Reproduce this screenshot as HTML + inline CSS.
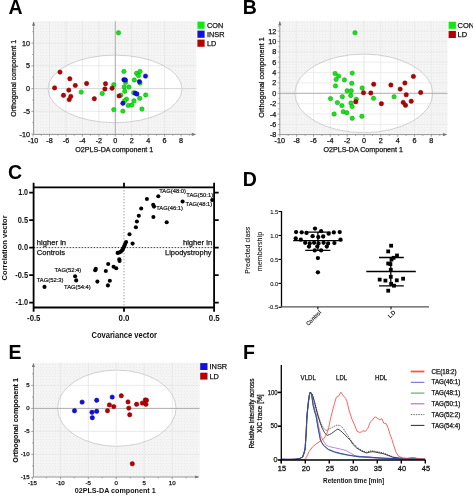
<!DOCTYPE html>
<html><head><meta charset="utf-8"><style>
html,body{margin:0;padding:0;background:#fff;}
svg{display:block;font-family:"Liberation Sans", sans-serif;will-change:transform;}
</style></head><body>
<svg width="473" height="496" viewBox="0 0 473 496">
<rect width="473" height="496" fill="#fff"/>
<defs><pattern id="dots" x="0" y="0" width="3" height="3" patternUnits="userSpaceOnUse"><rect width="3" height="3" fill="#f4f4f4"/><rect x="1" y="1" width="1" height="1" fill="#ebebeb"/></pattern></defs>
<text x="8.40" y="14.00" font-size="19.5" text-anchor="start" font-weight="bold">A</text>
<text x="242.80" y="13.60" font-size="19.5" text-anchor="start" font-weight="bold">B</text>
<text x="8.10" y="179.30" font-size="19.5" text-anchor="start" font-weight="bold">C</text>
<text x="242.70" y="185.70" font-size="19.5" text-anchor="start" font-weight="bold">D</text>
<text x="8.50" y="359.10" font-size="19.5" text-anchor="start" font-weight="bold">E</text>
<text x="243.00" y="359.30" font-size="19.5" text-anchor="start" font-weight="bold">F</text>
<rect x="34" y="21.2" width="162.3" height="113.2" fill="url(#dots)"/>
<ellipse cx="115" cy="88.9" rx="67" ry="33.8" fill="#ffffff" stroke="none"/>
<line x1="49.5" y1="21.2" x2="49.5" y2="134.4" stroke="#e7e7e7" stroke-width="0.9"/>
<line x1="66.0" y1="21.2" x2="66.0" y2="134.4" stroke="#e7e7e7" stroke-width="0.9"/>
<line x1="82.4" y1="21.2" x2="82.4" y2="134.4" stroke="#e7e7e7" stroke-width="0.9"/>
<line x1="98.9" y1="21.2" x2="98.9" y2="134.4" stroke="#e7e7e7" stroke-width="0.9"/>
<line x1="115.3" y1="21.2" x2="115.3" y2="134.4" stroke="#e7e7e7" stroke-width="0.9"/>
<line x1="131.7" y1="21.2" x2="131.7" y2="134.4" stroke="#e7e7e7" stroke-width="0.9"/>
<line x1="148.2" y1="21.2" x2="148.2" y2="134.4" stroke="#e7e7e7" stroke-width="0.9"/>
<line x1="164.6" y1="21.2" x2="164.6" y2="134.4" stroke="#e7e7e7" stroke-width="0.9"/>
<line x1="34" y1="43.1" x2="196.3" y2="43.1" stroke="#e7e7e7" stroke-width="0.9"/>
<line x1="34" y1="65.8" x2="196.3" y2="65.8" stroke="#e7e7e7" stroke-width="0.9"/>
<line x1="34" y1="111.3" x2="196.3" y2="111.3" stroke="#e7e7e7" stroke-width="0.9"/>
<ellipse cx="115" cy="88.9" rx="67" ry="33.8" fill="none" stroke="#b4b4b4" stroke-width="0.6"/>
<line x1="115.3" y1="21.2" x2="115.3" y2="134.4" stroke="#a8a8a8" stroke-width="0.9"/>
<line x1="34" y1="88.6" x2="196.3" y2="88.6" stroke="#d2d2d2" stroke-width="0.9"/>
<line x1="33.6" y1="22.2" x2="33.6" y2="134.4" stroke="#8a8a8a" stroke-width="0.9"/>
<line x1="33.6" y1="134.4" x2="195.3" y2="134.4" stroke="#8a8a8a" stroke-width="0.9"/>
<path d="M32.0,25.7 L33.6,21.5 L35.2,25.7 Z" fill="#777"/>
<path d="M191.8,132.8 L196.0,134.4 L191.8,136.0 Z" fill="#777"/>
<line x1="33.1" y1="134.4" x2="33.1" y2="136.6" stroke="#8a8a8a" stroke-width="0.8"/>
<line x1="49.5" y1="134.4" x2="49.5" y2="136.6" stroke="#8a8a8a" stroke-width="0.8"/>
<line x1="66.0" y1="134.4" x2="66.0" y2="136.6" stroke="#8a8a8a" stroke-width="0.8"/>
<line x1="82.4" y1="134.4" x2="82.4" y2="136.6" stroke="#8a8a8a" stroke-width="0.8"/>
<line x1="98.9" y1="134.4" x2="98.9" y2="136.6" stroke="#8a8a8a" stroke-width="0.8"/>
<line x1="115.3" y1="134.4" x2="115.3" y2="136.6" stroke="#8a8a8a" stroke-width="0.8"/>
<line x1="131.7" y1="134.4" x2="131.7" y2="136.6" stroke="#8a8a8a" stroke-width="0.8"/>
<line x1="148.2" y1="134.4" x2="148.2" y2="136.6" stroke="#8a8a8a" stroke-width="0.8"/>
<line x1="164.6" y1="134.4" x2="164.6" y2="136.6" stroke="#8a8a8a" stroke-width="0.8"/>
<line x1="181.1" y1="134.4" x2="181.1" y2="136.6" stroke="#8a8a8a" stroke-width="0.8"/>
<line x1="41.3" y1="134.4" x2="41.3" y2="135.70000000000002" stroke="#8a8a8a" stroke-width="0.8"/>
<line x1="57.8" y1="134.4" x2="57.8" y2="135.70000000000002" stroke="#8a8a8a" stroke-width="0.8"/>
<line x1="74.2" y1="134.4" x2="74.2" y2="135.70000000000002" stroke="#8a8a8a" stroke-width="0.8"/>
<line x1="90.6" y1="134.4" x2="90.6" y2="135.70000000000002" stroke="#8a8a8a" stroke-width="0.8"/>
<line x1="107.1" y1="134.4" x2="107.1" y2="135.70000000000002" stroke="#8a8a8a" stroke-width="0.8"/>
<line x1="123.5" y1="134.4" x2="123.5" y2="135.70000000000002" stroke="#8a8a8a" stroke-width="0.8"/>
<line x1="140.0" y1="134.4" x2="140.0" y2="135.70000000000002" stroke="#8a8a8a" stroke-width="0.8"/>
<line x1="156.4" y1="134.4" x2="156.4" y2="135.70000000000002" stroke="#8a8a8a" stroke-width="0.8"/>
<line x1="172.8" y1="134.4" x2="172.8" y2="135.70000000000002" stroke="#8a8a8a" stroke-width="0.8"/>
<line x1="189.3" y1="134.4" x2="189.3" y2="135.70000000000002" stroke="#8a8a8a" stroke-width="0.8"/>
<line x1="31.400000000000002" y1="43.1" x2="33.6" y2="43.1" stroke="#8a8a8a" stroke-width="0.8"/>
<line x1="31.400000000000002" y1="65.8" x2="33.6" y2="65.8" stroke="#8a8a8a" stroke-width="0.8"/>
<line x1="31.400000000000002" y1="88.6" x2="33.6" y2="88.6" stroke="#8a8a8a" stroke-width="0.8"/>
<line x1="31.400000000000002" y1="111.3" x2="33.6" y2="111.3" stroke="#8a8a8a" stroke-width="0.8"/>
<line x1="31.400000000000002" y1="134.1" x2="33.6" y2="134.1" stroke="#8a8a8a" stroke-width="0.8"/>
<line x1="32.300000000000004" y1="31.7" x2="33.6" y2="31.7" stroke="#8a8a8a" stroke-width="0.8"/>
<line x1="32.300000000000004" y1="54.5" x2="33.6" y2="54.5" stroke="#8a8a8a" stroke-width="0.8"/>
<line x1="32.300000000000004" y1="77.2" x2="33.6" y2="77.2" stroke="#8a8a8a" stroke-width="0.8"/>
<line x1="32.300000000000004" y1="100.0" x2="33.6" y2="100.0" stroke="#8a8a8a" stroke-width="0.8"/>
<line x1="32.300000000000004" y1="122.7" x2="33.6" y2="122.7" stroke="#8a8a8a" stroke-width="0.8"/>
<text x="33.10" y="142.60" font-size="7.2" text-anchor="middle" stroke="#111" stroke-width="0.25" fill="#111">-10</text>
<text x="49.54" y="142.60" font-size="7.2" text-anchor="middle" stroke="#111" stroke-width="0.25" fill="#111">-8</text>
<text x="65.98" y="142.60" font-size="7.2" text-anchor="middle" stroke="#111" stroke-width="0.25" fill="#111">-6</text>
<text x="82.42" y="142.60" font-size="7.2" text-anchor="middle" stroke="#111" stroke-width="0.25" fill="#111">-4</text>
<text x="98.86" y="142.60" font-size="7.2" text-anchor="middle" stroke="#111" stroke-width="0.25" fill="#111">-2</text>
<text x="115.30" y="142.60" font-size="7.2" text-anchor="middle" stroke="#111" stroke-width="0.25" fill="#111">0</text>
<text x="131.74" y="142.60" font-size="7.2" text-anchor="middle" stroke="#111" stroke-width="0.25" fill="#111">2</text>
<text x="148.18" y="142.60" font-size="7.2" text-anchor="middle" stroke="#111" stroke-width="0.25" fill="#111">4</text>
<text x="164.62" y="142.60" font-size="7.2" text-anchor="middle" stroke="#111" stroke-width="0.25" fill="#111">6</text>
<text x="181.06" y="142.60" font-size="7.2" text-anchor="middle" stroke="#111" stroke-width="0.25" fill="#111">8</text>
<text x="30.00" y="45.60" font-size="7.2" text-anchor="end" stroke="#111" stroke-width="0.25" fill="#111">10</text>
<text x="30.00" y="68.35" font-size="7.2" text-anchor="end" stroke="#111" stroke-width="0.25" fill="#111">5</text>
<text x="30.00" y="91.10" font-size="7.2" text-anchor="end" stroke="#111" stroke-width="0.25" fill="#111">0</text>
<text x="30.00" y="113.85" font-size="7.2" text-anchor="end" stroke="#111" stroke-width="0.25" fill="#111">-5</text>
<text x="30.00" y="136.60" font-size="7.2" text-anchor="end" stroke="#111" stroke-width="0.25" fill="#111">-10</text>
<text x="114.30" y="151.50" font-size="7.2" text-anchor="middle" stroke="#111" stroke-width="0.25" fill="#111" textLength="78" lengthAdjust="spacingAndGlyphs">O2PLS-DA component 1</text>
<text x="16.10" y="78.30" font-size="7" text-anchor="middle" stroke="#111" stroke-width="0.25" fill="#111" textLength="76.7" lengthAdjust="spacingAndGlyphs" transform="rotate(-90 16.10 78.30)">Orthogonal component 1</text>
<rect x="197.4" y="21.6" width="7.2" height="7.2" fill="#14e614"/>
<text x="207.00" y="27.90" font-size="7.3" text-anchor="start" stroke="#111" stroke-width="0.25" fill="#111">CON</text>
<rect x="197.4" y="30.6" width="7.2" height="7.2" fill="#1010e6"/>
<text x="207.00" y="36.90" font-size="7.3" text-anchor="start" stroke="#111" stroke-width="0.25" fill="#111">INSR</text>
<rect x="197.4" y="39.6" width="7.2" height="7.2" fill="#b80000"/>
<text x="207.00" y="45.90" font-size="7.3" text-anchor="start" stroke="#111" stroke-width="0.25" fill="#111">LD</text>
<circle cx="81.2" cy="92.1" r="2.2" fill="#14e614" stroke="#0a9a0a" stroke-width="0.5"/>
<circle cx="113.8" cy="84.7" r="2.2" fill="#14e614" stroke="#0a9a0a" stroke-width="0.5"/>
<circle cx="102.2" cy="93.5" r="2.2" fill="#14e614" stroke="#0a9a0a" stroke-width="0.5"/>
<circle cx="123.9" cy="71.4" r="2.2" fill="#14e614" stroke="#0a9a0a" stroke-width="0.5"/>
<circle cx="124.2" cy="86.9" r="2.2" fill="#14e614" stroke="#0a9a0a" stroke-width="0.5"/>
<circle cx="128.9" cy="87.0" r="2.2" fill="#14e614" stroke="#0a9a0a" stroke-width="0.5"/>
<circle cx="124.8" cy="91.3" r="2.2" fill="#14e614" stroke="#0a9a0a" stroke-width="0.5"/>
<circle cx="134.3" cy="80.0" r="2.2" fill="#14e614" stroke="#0a9a0a" stroke-width="0.5"/>
<circle cx="136.6" cy="73.3" r="2.2" fill="#14e614" stroke="#0a9a0a" stroke-width="0.5"/>
<circle cx="140.0" cy="71.4" r="2.2" fill="#14e614" stroke="#0a9a0a" stroke-width="0.5"/>
<circle cx="138.5" cy="75.6" r="2.2" fill="#14e614" stroke="#0a9a0a" stroke-width="0.5"/>
<circle cx="140.0" cy="83.1" r="2.2" fill="#14e614" stroke="#0a9a0a" stroke-width="0.5"/>
<circle cx="133.7" cy="92.7" r="2.2" fill="#14e614" stroke="#0a9a0a" stroke-width="0.5"/>
<circle cx="145.7" cy="95.0" r="2.2" fill="#14e614" stroke="#0a9a0a" stroke-width="0.5"/>
<circle cx="139.7" cy="98.3" r="2.2" fill="#14e614" stroke="#0a9a0a" stroke-width="0.5"/>
<circle cx="126.5" cy="99.1" r="2.2" fill="#14e614" stroke="#0a9a0a" stroke-width="0.5"/>
<circle cx="124.6" cy="100.8" r="2.2" fill="#14e614" stroke="#0a9a0a" stroke-width="0.5"/>
<circle cx="134.0" cy="100.8" r="2.2" fill="#14e614" stroke="#0a9a0a" stroke-width="0.5"/>
<circle cx="128.2" cy="105.4" r="2.2" fill="#14e614" stroke="#0a9a0a" stroke-width="0.5"/>
<circle cx="131.8" cy="105.0" r="2.2" fill="#14e614" stroke="#0a9a0a" stroke-width="0.5"/>
<circle cx="113.8" cy="109.6" r="2.2" fill="#14e614" stroke="#0a9a0a" stroke-width="0.5"/>
<circle cx="122.9" cy="111.1" r="2.2" fill="#14e614" stroke="#0a9a0a" stroke-width="0.5"/>
<circle cx="141.9" cy="109.0" r="2.2" fill="#14e614" stroke="#0a9a0a" stroke-width="0.5"/>
<circle cx="118.5" cy="32.8" r="2.2" fill="#14e614" stroke="#0a9a0a" stroke-width="0.5"/>
<circle cx="125.6" cy="82.4" r="2.2" fill="#14e614" stroke="#0a9a0a" stroke-width="0.5"/>
<circle cx="120.9" cy="95.2" r="2.2" fill="#14e614" stroke="#0a9a0a" stroke-width="0.5"/>
<circle cx="123.9" cy="79.7" r="2.2" fill="#1010e6" stroke="#000090" stroke-width="0.5"/>
<circle cx="125.4" cy="80.0" r="2.2" fill="#1010e6" stroke="#000090" stroke-width="0.5"/>
<circle cx="145.5" cy="76.1" r="2.2" fill="#1010e6" stroke="#000090" stroke-width="0.5"/>
<circle cx="139.4" cy="81.6" r="2.2" fill="#1010e6" stroke="#000090" stroke-width="0.5"/>
<circle cx="135.3" cy="93.2" r="2.2" fill="#1010e6" stroke="#000090" stroke-width="0.5"/>
<circle cx="136.9" cy="94.0" r="2.2" fill="#1010e6" stroke="#000090" stroke-width="0.5"/>
<circle cx="122.9" cy="103.3" r="2.2" fill="#1010e6" stroke="#000090" stroke-width="0.5"/>
<circle cx="60.0" cy="72.1" r="2.2" fill="#b80000" stroke="#700000" stroke-width="0.5"/>
<circle cx="69.8" cy="78.8" r="2.2" fill="#b80000" stroke="#700000" stroke-width="0.5"/>
<circle cx="75.3" cy="85.4" r="2.2" fill="#b80000" stroke="#700000" stroke-width="0.5"/>
<circle cx="86.6" cy="83.5" r="2.2" fill="#b80000" stroke="#700000" stroke-width="0.5"/>
<circle cx="54.6" cy="87.9" r="2.2" fill="#b80000" stroke="#700000" stroke-width="0.5"/>
<circle cx="68.8" cy="90.1" r="2.2" fill="#b80000" stroke="#700000" stroke-width="0.5"/>
<circle cx="63.5" cy="95.3" r="2.2" fill="#b80000" stroke="#700000" stroke-width="0.5"/>
<circle cx="70.8" cy="96.4" r="2.2" fill="#b80000" stroke="#700000" stroke-width="0.5"/>
<circle cx="69.2" cy="99.6" r="2.2" fill="#b80000" stroke="#700000" stroke-width="0.5"/>
<circle cx="94.3" cy="98.7" r="2.2" fill="#b80000" stroke="#700000" stroke-width="0.5"/>
<circle cx="105.5" cy="83.7" r="2.2" fill="#b80000" stroke="#700000" stroke-width="0.5"/>
<circle cx="104.9" cy="89.0" r="2.2" fill="#b80000" stroke="#700000" stroke-width="0.5"/>
<circle cx="112.1" cy="88.2" r="2.2" fill="#b80000" stroke="#700000" stroke-width="0.5"/>
<circle cx="119.1" cy="95.9" r="2.2" fill="#b80000" stroke="#700000" stroke-width="0.5"/>
<rect x="280" y="20.8" width="167.5" height="113.8" fill="url(#dots)"/>
<ellipse cx="363.8" cy="93.4" rx="69" ry="39.3" fill="#ffffff" stroke="none"/>
<line x1="296.6" y1="20.8" x2="296.6" y2="134.6" stroke="#ebebeb" stroke-width="0.9"/>
<line x1="313.5" y1="20.8" x2="313.5" y2="134.6" stroke="#ebebeb" stroke-width="0.9"/>
<line x1="330.3" y1="20.8" x2="330.3" y2="134.6" stroke="#ebebeb" stroke-width="0.9"/>
<line x1="347.2" y1="20.8" x2="347.2" y2="134.6" stroke="#ebebeb" stroke-width="0.9"/>
<line x1="364.0" y1="20.8" x2="364.0" y2="134.6" stroke="#ebebeb" stroke-width="0.9"/>
<line x1="380.8" y1="20.8" x2="380.8" y2="134.6" stroke="#ebebeb" stroke-width="0.9"/>
<line x1="397.7" y1="20.8" x2="397.7" y2="134.6" stroke="#ebebeb" stroke-width="0.9"/>
<line x1="414.5" y1="20.8" x2="414.5" y2="134.6" stroke="#ebebeb" stroke-width="0.9"/>
<line x1="431.4" y1="20.8" x2="431.4" y2="134.6" stroke="#ebebeb" stroke-width="0.9"/>
<line x1="280" y1="124.4" x2="447.5" y2="124.4" stroke="#ebebeb" stroke-width="0.9"/>
<line x1="280" y1="114.0" x2="447.5" y2="114.0" stroke="#ebebeb" stroke-width="0.9"/>
<line x1="280" y1="103.7" x2="447.5" y2="103.7" stroke="#ebebeb" stroke-width="0.9"/>
<line x1="280" y1="82.9" x2="447.5" y2="82.9" stroke="#ebebeb" stroke-width="0.9"/>
<line x1="280" y1="72.6" x2="447.5" y2="72.6" stroke="#ebebeb" stroke-width="0.9"/>
<line x1="280" y1="62.2" x2="447.5" y2="62.2" stroke="#ebebeb" stroke-width="0.9"/>
<line x1="280" y1="51.9" x2="447.5" y2="51.9" stroke="#ebebeb" stroke-width="0.9"/>
<line x1="280" y1="41.5" x2="447.5" y2="41.5" stroke="#ebebeb" stroke-width="0.9"/>
<line x1="280" y1="31.1" x2="447.5" y2="31.1" stroke="#ebebeb" stroke-width="0.9"/>
<ellipse cx="363.8" cy="93.4" rx="69" ry="39.3" fill="none" stroke="#b4b4b4" stroke-width="0.6"/>
<line x1="364.0" y1="20.8" x2="364.0" y2="134.6" stroke="#ebebeb" stroke-width="0.9"/>
<line x1="280" y1="93.3" x2="447.5" y2="93.3" stroke="#a4a4a4" stroke-width="0.9"/>
<line x1="279.8" y1="21.8" x2="279.8" y2="134.6" stroke="#8a8a8a" stroke-width="0.9"/>
<line x1="279.8" y1="134.6" x2="446.5" y2="134.6" stroke="#8a8a8a" stroke-width="0.9"/>
<path d="M278.2,25.3 L279.8,21.1 L281.40000000000003,25.3 Z" fill="#777"/>
<path d="M443.0,133.0 L447.2,134.6 L443.0,136.2 Z" fill="#777"/>
<line x1="279.8" y1="134.6" x2="279.8" y2="136.79999999999998" stroke="#8a8a8a" stroke-width="0.8"/>
<line x1="296.6" y1="134.6" x2="296.6" y2="136.79999999999998" stroke="#8a8a8a" stroke-width="0.8"/>
<line x1="313.5" y1="134.6" x2="313.5" y2="136.79999999999998" stroke="#8a8a8a" stroke-width="0.8"/>
<line x1="330.3" y1="134.6" x2="330.3" y2="136.79999999999998" stroke="#8a8a8a" stroke-width="0.8"/>
<line x1="347.2" y1="134.6" x2="347.2" y2="136.79999999999998" stroke="#8a8a8a" stroke-width="0.8"/>
<line x1="364.0" y1="134.6" x2="364.0" y2="136.79999999999998" stroke="#8a8a8a" stroke-width="0.8"/>
<line x1="380.8" y1="134.6" x2="380.8" y2="136.79999999999998" stroke="#8a8a8a" stroke-width="0.8"/>
<line x1="397.7" y1="134.6" x2="397.7" y2="136.79999999999998" stroke="#8a8a8a" stroke-width="0.8"/>
<line x1="414.5" y1="134.6" x2="414.5" y2="136.79999999999998" stroke="#8a8a8a" stroke-width="0.8"/>
<line x1="431.4" y1="134.6" x2="431.4" y2="136.79999999999998" stroke="#8a8a8a" stroke-width="0.8"/>
<line x1="288.2" y1="134.6" x2="288.2" y2="135.9" stroke="#8a8a8a" stroke-width="0.8"/>
<line x1="305.1" y1="134.6" x2="305.1" y2="135.9" stroke="#8a8a8a" stroke-width="0.8"/>
<line x1="321.9" y1="134.6" x2="321.9" y2="135.9" stroke="#8a8a8a" stroke-width="0.8"/>
<line x1="338.7" y1="134.6" x2="338.7" y2="135.9" stroke="#8a8a8a" stroke-width="0.8"/>
<line x1="355.6" y1="134.6" x2="355.6" y2="135.9" stroke="#8a8a8a" stroke-width="0.8"/>
<line x1="372.4" y1="134.6" x2="372.4" y2="135.9" stroke="#8a8a8a" stroke-width="0.8"/>
<line x1="389.3" y1="134.6" x2="389.3" y2="135.9" stroke="#8a8a8a" stroke-width="0.8"/>
<line x1="406.1" y1="134.6" x2="406.1" y2="135.9" stroke="#8a8a8a" stroke-width="0.8"/>
<line x1="422.9" y1="134.6" x2="422.9" y2="135.9" stroke="#8a8a8a" stroke-width="0.8"/>
<line x1="439.8" y1="134.6" x2="439.8" y2="135.9" stroke="#8a8a8a" stroke-width="0.8"/>
<line x1="277.6" y1="134.7" x2="279.8" y2="134.7" stroke="#8a8a8a" stroke-width="0.8"/>
<line x1="277.6" y1="124.4" x2="279.8" y2="124.4" stroke="#8a8a8a" stroke-width="0.8"/>
<line x1="277.6" y1="114.0" x2="279.8" y2="114.0" stroke="#8a8a8a" stroke-width="0.8"/>
<line x1="277.6" y1="103.7" x2="279.8" y2="103.7" stroke="#8a8a8a" stroke-width="0.8"/>
<line x1="277.6" y1="93.3" x2="279.8" y2="93.3" stroke="#8a8a8a" stroke-width="0.8"/>
<line x1="277.6" y1="82.9" x2="279.8" y2="82.9" stroke="#8a8a8a" stroke-width="0.8"/>
<line x1="277.6" y1="72.6" x2="279.8" y2="72.6" stroke="#8a8a8a" stroke-width="0.8"/>
<line x1="277.6" y1="62.2" x2="279.8" y2="62.2" stroke="#8a8a8a" stroke-width="0.8"/>
<line x1="277.6" y1="51.9" x2="279.8" y2="51.9" stroke="#8a8a8a" stroke-width="0.8"/>
<line x1="277.6" y1="41.5" x2="279.8" y2="41.5" stroke="#8a8a8a" stroke-width="0.8"/>
<line x1="277.6" y1="31.1" x2="279.8" y2="31.1" stroke="#8a8a8a" stroke-width="0.8"/>
<line x1="278.5" y1="129.6" x2="279.8" y2="129.6" stroke="#8a8a8a" stroke-width="0.8"/>
<line x1="278.5" y1="119.2" x2="279.8" y2="119.2" stroke="#8a8a8a" stroke-width="0.8"/>
<line x1="278.5" y1="108.8" x2="279.8" y2="108.8" stroke="#8a8a8a" stroke-width="0.8"/>
<line x1="278.5" y1="98.5" x2="279.8" y2="98.5" stroke="#8a8a8a" stroke-width="0.8"/>
<line x1="278.5" y1="88.1" x2="279.8" y2="88.1" stroke="#8a8a8a" stroke-width="0.8"/>
<line x1="278.5" y1="77.8" x2="279.8" y2="77.8" stroke="#8a8a8a" stroke-width="0.8"/>
<line x1="278.5" y1="67.4" x2="279.8" y2="67.4" stroke="#8a8a8a" stroke-width="0.8"/>
<line x1="278.5" y1="57.0" x2="279.8" y2="57.0" stroke="#8a8a8a" stroke-width="0.8"/>
<line x1="278.5" y1="46.7" x2="279.8" y2="46.7" stroke="#8a8a8a" stroke-width="0.8"/>
<line x1="278.5" y1="36.3" x2="279.8" y2="36.3" stroke="#8a8a8a" stroke-width="0.8"/>
<line x1="278.5" y1="26.0" x2="279.8" y2="26.0" stroke="#8a8a8a" stroke-width="0.8"/>
<text x="279.80" y="143.30" font-size="7.2" text-anchor="middle" stroke="#111" stroke-width="0.25" fill="#111">-10</text>
<text x="296.64" y="143.30" font-size="7.2" text-anchor="middle" stroke="#111" stroke-width="0.25" fill="#111">-8</text>
<text x="313.48" y="143.30" font-size="7.2" text-anchor="middle" stroke="#111" stroke-width="0.25" fill="#111">-6</text>
<text x="330.32" y="143.30" font-size="7.2" text-anchor="middle" stroke="#111" stroke-width="0.25" fill="#111">-4</text>
<text x="347.16" y="143.30" font-size="7.2" text-anchor="middle" stroke="#111" stroke-width="0.25" fill="#111">-2</text>
<text x="364.00" y="143.30" font-size="7.2" text-anchor="middle" stroke="#111" stroke-width="0.25" fill="#111">0</text>
<text x="380.84" y="143.30" font-size="7.2" text-anchor="middle" stroke="#111" stroke-width="0.25" fill="#111">2</text>
<text x="397.68" y="143.30" font-size="7.2" text-anchor="middle" stroke="#111" stroke-width="0.25" fill="#111">4</text>
<text x="414.52" y="143.30" font-size="7.2" text-anchor="middle" stroke="#111" stroke-width="0.25" fill="#111">6</text>
<text x="431.36" y="143.30" font-size="7.2" text-anchor="middle" stroke="#111" stroke-width="0.25" fill="#111">8</text>
<text x="276.30" y="137.24" font-size="7.2" text-anchor="end" stroke="#111" stroke-width="0.25" fill="#111">-8</text>
<text x="276.30" y="126.88" font-size="7.2" text-anchor="end" stroke="#111" stroke-width="0.25" fill="#111">-6</text>
<text x="276.30" y="116.52" font-size="7.2" text-anchor="end" stroke="#111" stroke-width="0.25" fill="#111">-4</text>
<text x="276.30" y="106.16" font-size="7.2" text-anchor="end" stroke="#111" stroke-width="0.25" fill="#111">-2</text>
<text x="276.30" y="95.80" font-size="7.2" text-anchor="end" stroke="#111" stroke-width="0.25" fill="#111">0</text>
<text x="276.30" y="85.44" font-size="7.2" text-anchor="end" stroke="#111" stroke-width="0.25" fill="#111">2</text>
<text x="276.30" y="75.08" font-size="7.2" text-anchor="end" stroke="#111" stroke-width="0.25" fill="#111">4</text>
<text x="276.30" y="64.72" font-size="7.2" text-anchor="end" stroke="#111" stroke-width="0.25" fill="#111">6</text>
<text x="276.30" y="54.36" font-size="7.2" text-anchor="end" stroke="#111" stroke-width="0.25" fill="#111">8</text>
<text x="276.30" y="44.00" font-size="7.2" text-anchor="end" stroke="#111" stroke-width="0.25" fill="#111">10</text>
<text x="276.30" y="33.64" font-size="7.2" text-anchor="end" stroke="#111" stroke-width="0.25" fill="#111">12</text>
<text x="363.20" y="151.80" font-size="7.2" text-anchor="middle" stroke="#111" stroke-width="0.25" fill="#111" textLength="79.5" lengthAdjust="spacingAndGlyphs">O2PLS-DA Component 1</text>
<text x="264.20" y="77.50" font-size="7.2" text-anchor="middle" stroke="#111" stroke-width="0.25" fill="#111" textLength="80.5" lengthAdjust="spacingAndGlyphs" transform="rotate(-90 264.20 77.50)">Orthogonal component 1</text>
<rect x="448.6" y="21.7" width="7.3" height="7.1" fill="#14e614"/>
<text x="457.60" y="28.00" font-size="7.5" text-anchor="start" stroke="#111" stroke-width="0.25" fill="#111">CON</text>
<rect x="448.6" y="30.9" width="7.3" height="7.1" fill="#b80000"/>
<text x="457.60" y="37.20" font-size="7.5" text-anchor="start" stroke="#111" stroke-width="0.25" fill="#111">LD</text>
<circle cx="335.1" cy="73.5" r="2.2" fill="#14e614" stroke="#0a9a0a" stroke-width="0.5"/>
<circle cx="338.7" cy="76.1" r="2.2" fill="#14e614" stroke="#0a9a0a" stroke-width="0.5"/>
<circle cx="336.1" cy="79.4" r="2.2" fill="#14e614" stroke="#0a9a0a" stroke-width="0.5"/>
<circle cx="352.2" cy="73.1" r="2.2" fill="#14e614" stroke="#0a9a0a" stroke-width="0.5"/>
<circle cx="344.4" cy="79.9" r="2.2" fill="#14e614" stroke="#0a9a0a" stroke-width="0.5"/>
<circle cx="351.8" cy="83.3" r="2.2" fill="#14e614" stroke="#0a9a0a" stroke-width="0.5"/>
<circle cx="335.5" cy="85.9" r="2.2" fill="#14e614" stroke="#0a9a0a" stroke-width="0.5"/>
<circle cx="347.1" cy="90.8" r="2.2" fill="#14e614" stroke="#0a9a0a" stroke-width="0.5"/>
<circle cx="351.2" cy="90.8" r="2.2" fill="#14e614" stroke="#0a9a0a" stroke-width="0.5"/>
<circle cx="362.2" cy="88.0" r="2.2" fill="#14e614" stroke="#0a9a0a" stroke-width="0.5"/>
<circle cx="330.5" cy="98.6" r="2.2" fill="#14e614" stroke="#0a9a0a" stroke-width="0.5"/>
<circle cx="342.3" cy="96.7" r="2.2" fill="#14e614" stroke="#0a9a0a" stroke-width="0.5"/>
<circle cx="350.7" cy="95.5" r="2.2" fill="#14e614" stroke="#0a9a0a" stroke-width="0.5"/>
<circle cx="373.5" cy="98.3" r="2.2" fill="#14e614" stroke="#0a9a0a" stroke-width="0.5"/>
<circle cx="356.3" cy="99.3" r="2.2" fill="#14e614" stroke="#0a9a0a" stroke-width="0.5"/>
<circle cx="337.4" cy="102.6" r="2.2" fill="#14e614" stroke="#0a9a0a" stroke-width="0.5"/>
<circle cx="341.9" cy="105.6" r="2.2" fill="#14e614" stroke="#0a9a0a" stroke-width="0.5"/>
<circle cx="351.0" cy="103.0" r="2.2" fill="#14e614" stroke="#0a9a0a" stroke-width="0.5"/>
<circle cx="352.1" cy="106.5" r="2.2" fill="#14e614" stroke="#0a9a0a" stroke-width="0.5"/>
<circle cx="343.3" cy="111.7" r="2.2" fill="#14e614" stroke="#0a9a0a" stroke-width="0.5"/>
<circle cx="346.9" cy="112.7" r="2.2" fill="#14e614" stroke="#0a9a0a" stroke-width="0.5"/>
<circle cx="334.1" cy="114.0" r="2.2" fill="#14e614" stroke="#0a9a0a" stroke-width="0.5"/>
<circle cx="352.2" cy="118.3" r="2.2" fill="#14e614" stroke="#0a9a0a" stroke-width="0.5"/>
<circle cx="361.9" cy="116.3" r="2.2" fill="#14e614" stroke="#0a9a0a" stroke-width="0.5"/>
<circle cx="355.0" cy="32.8" r="2.2" fill="#14e614" stroke="#0a9a0a" stroke-width="0.5"/>
<circle cx="394.1" cy="96.7" r="2.2" fill="#14e614" stroke="#0a9a0a" stroke-width="0.5"/>
<circle cx="373.7" cy="84.2" r="2.2" fill="#b80000" stroke="#700000" stroke-width="0.5"/>
<circle cx="363.5" cy="92.8" r="2.2" fill="#b80000" stroke="#700000" stroke-width="0.5"/>
<circle cx="370.8" cy="93.0" r="2.2" fill="#b80000" stroke="#700000" stroke-width="0.5"/>
<circle cx="355.8" cy="101.7" r="2.2" fill="#b80000" stroke="#700000" stroke-width="0.5"/>
<circle cx="381.4" cy="103.7" r="2.2" fill="#b80000" stroke="#700000" stroke-width="0.5"/>
<circle cx="390.9" cy="85.0" r="2.2" fill="#b80000" stroke="#700000" stroke-width="0.5"/>
<circle cx="400.2" cy="89.1" r="2.2" fill="#b80000" stroke="#700000" stroke-width="0.5"/>
<circle cx="404.9" cy="83.0" r="2.2" fill="#b80000" stroke="#700000" stroke-width="0.5"/>
<circle cx="413.4" cy="76.4" r="2.2" fill="#b80000" stroke="#700000" stroke-width="0.5"/>
<circle cx="406.2" cy="94.8" r="2.2" fill="#b80000" stroke="#700000" stroke-width="0.5"/>
<circle cx="420.7" cy="92.5" r="2.2" fill="#b80000" stroke="#700000" stroke-width="0.5"/>
<circle cx="403.2" cy="102.4" r="2.2" fill="#b80000" stroke="#700000" stroke-width="0.5"/>
<circle cx="405.5" cy="105.3" r="2.2" fill="#b80000" stroke="#700000" stroke-width="0.5"/>
<circle cx="411.2" cy="101.2" r="2.2" fill="#b80000" stroke="#700000" stroke-width="0.5"/>
<rect x="34" y="362.6" width="165.6" height="114.39999999999998" fill="url(#dots)"/>
<ellipse cx="116.8" cy="408.2" rx="59.2" ry="38.1" fill="#ffffff" stroke="none"/>
<line x1="60.4" y1="362.6" x2="60.4" y2="477" stroke="#e7e7e7" stroke-width="0.9"/>
<line x1="88.3" y1="362.6" x2="88.3" y2="477" stroke="#e7e7e7" stroke-width="0.9"/>
<line x1="144.2" y1="362.6" x2="144.2" y2="477" stroke="#e7e7e7" stroke-width="0.9"/>
<line x1="172.2" y1="362.6" x2="172.2" y2="477" stroke="#e7e7e7" stroke-width="0.9"/>
<line x1="34" y1="385.4" x2="199.6" y2="385.4" stroke="#e7e7e7" stroke-width="0.9"/>
<line x1="34" y1="431.4" x2="199.6" y2="431.4" stroke="#e7e7e7" stroke-width="0.9"/>
<line x1="34" y1="454.4" x2="199.6" y2="454.4" stroke="#e7e7e7" stroke-width="0.9"/>
<ellipse cx="116.8" cy="408.2" rx="59.2" ry="38.1" fill="none" stroke="#b4b4b4" stroke-width="0.6"/>
<line x1="116.2" y1="362.6" x2="116.2" y2="477" stroke="#e7e7e7" stroke-width="0.9"/>
<line x1="34" y1="408.4" x2="199.6" y2="408.4" stroke="#a4a4a4" stroke-width="0.9"/>
<line x1="33.4" y1="363.6" x2="33.4" y2="477" stroke="#8a8a8a" stroke-width="0.9"/>
<line x1="33.4" y1="477" x2="198.6" y2="477" stroke="#8a8a8a" stroke-width="0.9"/>
<path d="M31.799999999999997,367.1 L33.4,362.90000000000003 L35.0,367.1 Z" fill="#777"/>
<path d="M195.1,475.4 L199.29999999999998,477 L195.1,478.6 Z" fill="#777"/>
<line x1="32.4" y1="477" x2="32.4" y2="479.2" stroke="#8a8a8a" stroke-width="0.8"/>
<line x1="60.4" y1="477" x2="60.4" y2="479.2" stroke="#8a8a8a" stroke-width="0.8"/>
<line x1="88.3" y1="477" x2="88.3" y2="479.2" stroke="#8a8a8a" stroke-width="0.8"/>
<line x1="116.2" y1="477" x2="116.2" y2="479.2" stroke="#8a8a8a" stroke-width="0.8"/>
<line x1="144.2" y1="477" x2="144.2" y2="479.2" stroke="#8a8a8a" stroke-width="0.8"/>
<line x1="172.2" y1="477" x2="172.2" y2="479.2" stroke="#8a8a8a" stroke-width="0.8"/>
<line x1="46.4" y1="477" x2="46.4" y2="478.3" stroke="#8a8a8a" stroke-width="0.8"/>
<line x1="74.3" y1="477" x2="74.3" y2="478.3" stroke="#8a8a8a" stroke-width="0.8"/>
<line x1="102.3" y1="477" x2="102.3" y2="478.3" stroke="#8a8a8a" stroke-width="0.8"/>
<line x1="130.2" y1="477" x2="130.2" y2="478.3" stroke="#8a8a8a" stroke-width="0.8"/>
<line x1="158.2" y1="477" x2="158.2" y2="478.3" stroke="#8a8a8a" stroke-width="0.8"/>
<line x1="186.1" y1="477" x2="186.1" y2="478.3" stroke="#8a8a8a" stroke-width="0.8"/>
<line x1="31.2" y1="385.4" x2="33.4" y2="385.4" stroke="#8a8a8a" stroke-width="0.8"/>
<line x1="31.2" y1="408.4" x2="33.4" y2="408.4" stroke="#8a8a8a" stroke-width="0.8"/>
<line x1="31.2" y1="431.4" x2="33.4" y2="431.4" stroke="#8a8a8a" stroke-width="0.8"/>
<line x1="31.2" y1="454.4" x2="33.4" y2="454.4" stroke="#8a8a8a" stroke-width="0.8"/>
<line x1="31.2" y1="477.4" x2="33.4" y2="477.4" stroke="#8a8a8a" stroke-width="0.8"/>
<line x1="32.1" y1="373.9" x2="33.4" y2="373.9" stroke="#8a8a8a" stroke-width="0.8"/>
<line x1="32.1" y1="396.9" x2="33.4" y2="396.9" stroke="#8a8a8a" stroke-width="0.8"/>
<line x1="32.1" y1="419.9" x2="33.4" y2="419.9" stroke="#8a8a8a" stroke-width="0.8"/>
<line x1="32.1" y1="442.9" x2="33.4" y2="442.9" stroke="#8a8a8a" stroke-width="0.8"/>
<line x1="32.1" y1="465.9" x2="33.4" y2="465.9" stroke="#8a8a8a" stroke-width="0.8"/>
<text x="32.40" y="484.90" font-size="6.1" text-anchor="middle" stroke="#111" stroke-width="0.25" fill="#111">-15</text>
<text x="60.35" y="484.90" font-size="6.1" text-anchor="middle" stroke="#111" stroke-width="0.25" fill="#111">-10</text>
<text x="88.30" y="484.90" font-size="6.1" text-anchor="middle" stroke="#111" stroke-width="0.25" fill="#111">-5</text>
<text x="116.25" y="484.90" font-size="6.1" text-anchor="middle" stroke="#111" stroke-width="0.25" fill="#111">0</text>
<text x="144.20" y="484.90" font-size="6.1" text-anchor="middle" stroke="#111" stroke-width="0.25" fill="#111">5</text>
<text x="172.15" y="484.90" font-size="6.1" text-anchor="middle" stroke="#111" stroke-width="0.25" fill="#111">10</text>
<text x="29.60" y="386.80" font-size="6.1" text-anchor="end" stroke="#111" stroke-width="0.25" fill="#111">5</text>
<text x="29.60" y="409.80" font-size="6.1" text-anchor="end" stroke="#111" stroke-width="0.25" fill="#111">0</text>
<text x="29.60" y="432.80" font-size="6.1" text-anchor="end" stroke="#111" stroke-width="0.25" fill="#111">-5</text>
<text x="29.60" y="455.80" font-size="6.1" text-anchor="end" stroke="#111" stroke-width="0.25" fill="#111">-10</text>
<text x="29.60" y="478.80" font-size="6.1" text-anchor="end" stroke="#111" stroke-width="0.25" fill="#111">-15</text>
<text x="115.20" y="493.20" font-size="8" text-anchor="middle" font-weight="bold" fill="#111" textLength="81" lengthAdjust="spacingAndGlyphs">02PLS-DA component 1</text>
<text x="17.80" y="420.40" font-size="7.5" text-anchor="middle" stroke="#111" stroke-width="0.15" font-weight="bold" fill="#111" textLength="84.5" lengthAdjust="spacingAndGlyphs" transform="rotate(-90 17.80 420.40)">Orthogonal component 1</text>
<rect x="200.2" y="363.1" width="7.3" height="6.9" fill="#1010e6"/>
<text x="209.50" y="369.40" font-size="7.4" text-anchor="start" stroke="#111" stroke-width="0.25" fill="#111">INSR</text>
<rect x="200.2" y="372.7" width="7.3" height="6.9" fill="#b80000"/>
<text x="209.50" y="379.00" font-size="7.4" text-anchor="start" stroke="#111" stroke-width="0.25" fill="#111">LD</text>
<circle cx="74.5" cy="410.8" r="2.2" fill="#1010e6" stroke="#000090" stroke-width="0.5"/>
<circle cx="82.1" cy="402.1" r="2.2" fill="#1010e6" stroke="#000090" stroke-width="0.5"/>
<circle cx="96.7" cy="400.2" r="2.2" fill="#1010e6" stroke="#000090" stroke-width="0.5"/>
<circle cx="92.0" cy="412.3" r="2.2" fill="#1010e6" stroke="#000090" stroke-width="0.5"/>
<circle cx="96.7" cy="411.3" r="2.2" fill="#1010e6" stroke="#000090" stroke-width="0.5"/>
<circle cx="92.3" cy="417.7" r="2.2" fill="#1010e6" stroke="#000090" stroke-width="0.5"/>
<circle cx="112.2" cy="397.1" r="2.2" fill="#1010e6" stroke="#000090" stroke-width="0.5"/>
<circle cx="121.3" cy="395.8" r="2.2" fill="#b80000" stroke="#700000" stroke-width="0.5"/>
<circle cx="109.4" cy="404.9" r="2.2" fill="#b80000" stroke="#700000" stroke-width="0.5"/>
<circle cx="113.8" cy="406.6" r="2.2" fill="#b80000" stroke="#700000" stroke-width="0.5"/>
<circle cx="107.5" cy="410.8" r="2.2" fill="#b80000" stroke="#700000" stroke-width="0.5"/>
<circle cx="128.0" cy="401.9" r="2.2" fill="#b80000" stroke="#700000" stroke-width="0.5"/>
<circle cx="128.8" cy="408.1" r="2.2" fill="#b80000" stroke="#700000" stroke-width="0.5"/>
<circle cx="129.7" cy="414.8" r="2.2" fill="#b80000" stroke="#700000" stroke-width="0.5"/>
<circle cx="136.6" cy="404.3" r="2.2" fill="#b80000" stroke="#700000" stroke-width="0.5"/>
<circle cx="142.3" cy="403.1" r="2.2" fill="#b80000" stroke="#700000" stroke-width="0.5"/>
<circle cx="145.3" cy="400.0" r="2.2" fill="#b80000" stroke="#700000" stroke-width="0.5"/>
<circle cx="146.5" cy="400.2" r="2.2" fill="#b80000" stroke="#700000" stroke-width="0.5"/>
<circle cx="145.9" cy="404.3" r="2.2" fill="#b80000" stroke="#700000" stroke-width="0.5"/>
<circle cx="132.3" cy="463.8" r="2.2" fill="#b80000" stroke="#700000" stroke-width="0.5"/>
<line x1="124.0" y1="187.3" x2="124.0" y2="307.5" stroke="#555" stroke-width="0.8" stroke-dasharray="1 2"/>
<line x1="33.6" y1="247.6" x2="214.1" y2="247.6" stroke="#111" stroke-width="0.8" stroke-dasharray="1.6 1.4"/>
<path d="M33.6,182.8 V311.7 M214.1,182.8 V311.7 M32.9,187.3 H214.79999999999998 M32.9,307.5 H214.79999999999998 M124.0,182.8 V187.3 M124.0,307.5 V311.7" stroke="#000" stroke-width="1.8" fill="none"/>
<path d="M29.200000000000003,192.6 H33.6 M214.1,192.6 H218.7 M29.200000000000003,220.1 H33.6 M214.1,220.1 H218.7 M29.200000000000003,247.6 H33.6 M214.1,247.6 H218.7 M29.200000000000003,275.1 H33.6 M214.1,275.1 H218.7 M29.200000000000003,302.6 H33.6 M214.1,302.6 H218.7 " stroke="#000" stroke-width="1.8" fill="none"/>
<text x="28.10" y="195.20" font-size="8.3" text-anchor="end" font-weight="bold" fill="#111" textLength="9.9" lengthAdjust="spacingAndGlyphs">1.0</text>
<text x="28.10" y="222.70" font-size="8.3" text-anchor="end" font-weight="bold" fill="#111" textLength="10.4" lengthAdjust="spacingAndGlyphs">0.5</text>
<text x="28.10" y="250.20" font-size="8.3" text-anchor="end" font-weight="bold" fill="#111" textLength="10.4" lengthAdjust="spacingAndGlyphs">0.0</text>
<text x="28.10" y="277.70" font-size="8.3" text-anchor="end" font-weight="bold" fill="#111" textLength="12.9" lengthAdjust="spacingAndGlyphs">-0.5</text>
<text x="28.10" y="305.20" font-size="8.3" text-anchor="end" font-weight="bold" fill="#111" textLength="12.6" lengthAdjust="spacingAndGlyphs">-1.0</text>
<text x="33.75" y="321.00" font-size="8.3" text-anchor="middle" font-weight="bold" fill="#111" textLength="13.4" lengthAdjust="spacingAndGlyphs">-0.5</text>
<text x="124.00" y="321.00" font-size="8.3" text-anchor="middle" font-weight="bold" fill="#111" textLength="11.0" lengthAdjust="spacingAndGlyphs">0.0</text>
<text x="214.25" y="321.00" font-size="8.3" text-anchor="middle" font-weight="bold" fill="#111" textLength="11.0" lengthAdjust="spacingAndGlyphs">0.5</text>
<text x="124.20" y="338.20" font-size="8.4" text-anchor="middle" font-weight="bold" fill="#111" textLength="65.5" lengthAdjust="spacingAndGlyphs">Covariance vector</text>
<text x="7.20" y="247.90" font-size="7.7" text-anchor="middle" font-weight="bold" fill="#111" textLength="65" lengthAdjust="spacingAndGlyphs" transform="rotate(-90 7.20 247.90)">Correlation vector</text>
<text x="36.80" y="244.60" font-size="7.6" text-anchor="start" stroke="#111" stroke-width="0.25" fill="#111" textLength="29.3" lengthAdjust="spacingAndGlyphs">higher in</text>
<text x="36.80" y="254.50" font-size="7.6" text-anchor="start" stroke="#111" stroke-width="0.25" fill="#111">Controls</text>
<text x="212.20" y="244.60" font-size="7.6" text-anchor="end" stroke="#111" stroke-width="0.25" fill="#111" textLength="29.3" lengthAdjust="spacingAndGlyphs">higher in</text>
<text x="211.60" y="254.50" font-size="7.6" text-anchor="end" stroke="#111" stroke-width="0.25" fill="#111" textLength="46.6" lengthAdjust="spacingAndGlyphs">Lipodystrophy</text>
<text x="159.20" y="193.20" font-size="6.1" text-anchor="start" stroke="#111" stroke-width="0.2" fill="#111" textLength="26.8" lengthAdjust="spacingAndGlyphs">TAG(48:0)</text>
<text x="186.30" y="196.90" font-size="6.1" text-anchor="start" stroke="#111" stroke-width="0.2" fill="#111" textLength="26.8" lengthAdjust="spacingAndGlyphs">TAG(50:1)</text>
<text x="185.50" y="205.80" font-size="6.1" text-anchor="start" stroke="#111" stroke-width="0.2" fill="#111" textLength="26.8" lengthAdjust="spacingAndGlyphs">TAG(48:1)</text>
<text x="156.20" y="209.50" font-size="6.1" text-anchor="start" stroke="#111" stroke-width="0.2" fill="#111" textLength="26.8" lengthAdjust="spacingAndGlyphs">TAG(46:1)</text>
<text x="54.40" y="272.20" font-size="6.1" text-anchor="start" stroke="#111" stroke-width="0.2" fill="#111" textLength="26.8" lengthAdjust="spacingAndGlyphs">TAG(52:4)</text>
<text x="36.70" y="282.10" font-size="6.1" text-anchor="start" stroke="#111" stroke-width="0.2" fill="#111" textLength="26.8" lengthAdjust="spacingAndGlyphs">TAG(52:3)</text>
<text x="64.00" y="288.70" font-size="6.1" text-anchor="start" stroke="#111" stroke-width="0.2" fill="#111" textLength="26.8" lengthAdjust="spacingAndGlyphs">TAG(54:4)</text>
<circle cx="129.5" cy="234.2" r="2.05" fill="#000"/>
<circle cx="132.6" cy="243.6" r="2.05" fill="#000"/>
<circle cx="117.6" cy="252.9" r="2.05" fill="#000"/>
<circle cx="119.2" cy="252.5" r="2.05" fill="#000"/>
<circle cx="120.7" cy="251.7" r="2.05" fill="#000"/>
<circle cx="122.0" cy="250.4" r="2.05" fill="#000"/>
<circle cx="123.0" cy="248.9" r="2.05" fill="#000"/>
<circle cx="123.8" cy="247.3" r="2.05" fill="#000"/>
<circle cx="124.5" cy="245.5" r="2.05" fill="#000"/>
<circle cx="125.2" cy="243.8" r="2.05" fill="#000"/>
<circle cx="126.1" cy="242.0" r="2.05" fill="#000"/>
<circle cx="119.3" cy="259.2" r="2.05" fill="#000"/>
<circle cx="119.6" cy="261.0" r="2.05" fill="#000"/>
<circle cx="108.2" cy="264.0" r="2.05" fill="#000"/>
<circle cx="113.6" cy="266.8" r="2.05" fill="#000"/>
<circle cx="116.2" cy="268.3" r="2.05" fill="#000"/>
<circle cx="95.8" cy="268.9" r="2.05" fill="#000"/>
<circle cx="95.2" cy="270.3" r="2.05" fill="#000"/>
<circle cx="105.8" cy="271.0" r="2.05" fill="#000"/>
<circle cx="97.4" cy="281.6" r="2.05" fill="#000"/>
<circle cx="109.8" cy="280.7" r="2.05" fill="#000"/>
<circle cx="107.9" cy="285.4" r="2.05" fill="#000"/>
<circle cx="158.3" cy="196.2" r="2.05" fill="#000"/>
<circle cx="146.9" cy="199.0" r="2.05" fill="#000"/>
<circle cx="153.2" cy="204.7" r="2.05" fill="#000"/>
<circle cx="154.0" cy="206.6" r="2.05" fill="#000"/>
<circle cx="141.2" cy="208.5" r="2.05" fill="#000"/>
<circle cx="138.8" cy="215.8" r="2.05" fill="#000"/>
<circle cx="136.9" cy="221.5" r="2.05" fill="#000"/>
<circle cx="153.4" cy="217.0" r="2.05" fill="#000"/>
<circle cx="166.7" cy="222.2" r="2.05" fill="#000"/>
<circle cx="135.9" cy="227.2" r="2.05" fill="#000"/>
<circle cx="182.6" cy="201.5" r="2.05" fill="#000"/>
<circle cx="212.2" cy="200.0" r="2.05" fill="#000"/>
<circle cx="44.5" cy="286.9" r="2.05" fill="#000"/>
<circle cx="75.1" cy="276.3" r="2.05" fill="#000"/>
<circle cx="76.2" cy="280.4" r="2.05" fill="#000"/>
<line x1="281.5" y1="210.95" x2="281.5" y2="306.8" stroke="#000" stroke-width="1.3"/>
<line x1="280.9" y1="306.8" x2="429" y2="306.8" stroke="#555" stroke-width="1.3"/>
<line x1="278.5" y1="211.5" x2="281.5" y2="211.5" stroke="#000" stroke-width="1.1"/>
<text x="278.20" y="213.65" font-size="5.8" text-anchor="end" stroke="#111" stroke-width="0.1" fill="#111">1.5</text>
<line x1="278.5" y1="235.5" x2="281.5" y2="235.5" stroke="#000" stroke-width="1.1"/>
<text x="278.20" y="237.60" font-size="5.8" text-anchor="end" stroke="#111" stroke-width="0.1" fill="#111">1.0</text>
<line x1="278.5" y1="259.4" x2="281.5" y2="259.4" stroke="#000" stroke-width="1.1"/>
<text x="278.20" y="261.55" font-size="5.8" text-anchor="end" stroke="#111" stroke-width="0.1" fill="#111">0.5</text>
<line x1="278.5" y1="283.4" x2="281.5" y2="283.4" stroke="#000" stroke-width="1.1"/>
<text x="278.20" y="285.50" font-size="5.8" text-anchor="end" stroke="#111" stroke-width="0.1" fill="#111">0.0</text>
<line x1="278.5" y1="307.3" x2="281.5" y2="307.3" stroke="#000" stroke-width="1.1"/>
<text x="278.20" y="309.45" font-size="5.8" text-anchor="end" stroke="#111" stroke-width="0.1" fill="#111">-0.5</text>
<line x1="317.9" y1="306.8" x2="317.9" y2="309.40000000000003" stroke="#000" stroke-width="1"/>
<line x1="391.0" y1="306.8" x2="391.0" y2="309.40000000000003" stroke="#000" stroke-width="1"/>
<text x="321.70" y="312.80" font-size="6.0" text-anchor="end" font-weight="bold" fill="#111" textLength="18.8" lengthAdjust="spacingAndGlyphs" transform="rotate(-45 321.70 312.80)">Control</text>
<text x="396.00" y="312.80" font-size="6.0" text-anchor="end" font-weight="bold" fill="#111" transform="rotate(-45 396.00 312.80)">LD</text>
<text x="249.90" y="250.30" font-size="7" text-anchor="middle" stroke="#111" stroke-width="0.08" fill="#111" textLength="47" lengthAdjust="spacingAndGlyphs" transform="rotate(-90 249.90 250.30)">Predicted class</text>
<text x="261.90" y="251.50" font-size="7" text-anchor="middle" stroke="#111" stroke-width="0.08" fill="#111" textLength="39.3" lengthAdjust="spacingAndGlyphs" transform="rotate(-90 261.90 251.50)">membership</text>
<circle cx="315.0" cy="228.6" r="2.15" fill="#000"/>
<circle cx="296.1" cy="232.1" r="2.15" fill="#000"/>
<circle cx="301.7" cy="232.3" r="2.15" fill="#000"/>
<circle cx="306.5" cy="232.9" r="2.15" fill="#000"/>
<circle cx="321.1" cy="231.2" r="2.15" fill="#000"/>
<circle cx="328.7" cy="233.7" r="2.15" fill="#000"/>
<circle cx="333.8" cy="232.4" r="2.15" fill="#000"/>
<circle cx="339.7" cy="232.1" r="2.15" fill="#000"/>
<circle cx="312.6" cy="236.2" r="2.15" fill="#000"/>
<circle cx="318.3" cy="237.1" r="2.15" fill="#000"/>
<circle cx="323.2" cy="236.5" r="2.15" fill="#000"/>
<circle cx="295.7" cy="238.4" r="2.15" fill="#000"/>
<circle cx="300.8" cy="239.7" r="2.15" fill="#000"/>
<circle cx="340.5" cy="239.7" r="2.15" fill="#000"/>
<circle cx="305.2" cy="242.8" r="2.15" fill="#000"/>
<circle cx="309.7" cy="243.5" r="2.15" fill="#000"/>
<circle cx="314.1" cy="242.8" r="2.15" fill="#000"/>
<circle cx="318.5" cy="243.5" r="2.15" fill="#000"/>
<circle cx="323.6" cy="242.8" r="2.15" fill="#000"/>
<circle cx="328.1" cy="243.5" r="2.15" fill="#000"/>
<circle cx="334.4" cy="243.1" r="2.15" fill="#000"/>
<circle cx="309.0" cy="246.6" r="2.15" fill="#000"/>
<circle cx="326.8" cy="246.6" r="2.15" fill="#000"/>
<circle cx="317.3" cy="246.6" r="2.15" fill="#000"/>
<circle cx="314.7" cy="250.4" r="2.15" fill="#000"/>
<circle cx="321.1" cy="250.4" r="2.15" fill="#000"/>
<circle cx="317.9" cy="258.1" r="2.15" fill="#000"/>
<circle cx="317.9" cy="272.3" r="2.15" fill="#000"/>
<path d="M293.2,240.7 H342.4 M305.2,232.1 H330.6 M305.2,250.4 H330.4 M317.9,232.1 V250.4" stroke="#000" stroke-width="1.3" fill="none"/>
<rect x="389.2" y="243.8" width="3.8" height="3.8" fill="#000"/>
<rect x="386.3" y="249.5" width="3.8" height="3.8" fill="#000"/>
<rect x="395.1" y="253.6" width="3.8" height="3.8" fill="#000"/>
<rect x="391.7" y="255.9" width="3.8" height="3.8" fill="#000"/>
<rect x="389.6" y="257.6" width="3.8" height="3.8" fill="#000"/>
<rect x="386.3" y="261.6" width="3.8" height="3.8" fill="#000"/>
<rect x="388.5" y="262.2" width="3.8" height="3.8" fill="#000"/>
<rect x="388.9" y="267.9" width="3.8" height="3.8" fill="#000"/>
<rect x="388.9" y="274.9" width="3.8" height="3.8" fill="#000"/>
<rect x="377.8" y="277.7" width="3.8" height="3.8" fill="#000"/>
<rect x="383.5" y="278.7" width="3.8" height="3.8" fill="#000"/>
<rect x="394.9" y="278.4" width="3.8" height="3.8" fill="#000"/>
<rect x="401.2" y="276.8" width="3.8" height="3.8" fill="#000"/>
<rect x="389.2" y="281.9" width="3.8" height="3.8" fill="#000"/>
<rect x="392.1" y="283.8" width="3.8" height="3.8" fill="#000"/>
<rect x="386.3" y="288.8" width="3.8" height="3.8" fill="#000"/>
<path d="M366.3,271.5 H415.8 M379,257.5 H403.8 M379,285.9 H403.8 M390.8,257.5 V285.9" stroke="#000" stroke-width="1.3" fill="none"/>
<polyline points="281.3,459.3 290.0,459.4 296.0,459.2 300.0,458.4 302.7,456.8 304.3,452.0 305.2,447.9 305.8,437.0 306.2,432.7 306.7,420.0 307.5,410.0 308.6,400.0 309.5,394.5 310.2,392.2 312.0,393.5 314.3,400.7 316.0,407.0 317.7,413.4 319.8,420.1 321.9,425.2 324.0,428.8 326.0,430.5 328.5,429.5 331.0,428.0 333.5,426.8 336.0,425.4 337.8,425.1 340.4,425.6 342.9,428.1 345.5,432.0 348.8,437.0 351.0,440.5 353.0,442.9 356.5,446.8 361.6,450.3 366.6,452.2 370.0,451.0 373.0,450.8 378.1,451.8 383.1,452.8 388.2,455.0 393.3,457.0 399.6,458.0 410.0,459.0 425.0,459.3" fill="none" stroke="#222" stroke-width="0.7" stroke-linejoin="round" stroke-dasharray="1.3 0.9"/>
<polyline points="281.3,459.3 290.0,459.4 296.0,459.2 300.0,458.4 302.7,456.8 304.3,452.0 305.2,447.9 305.8,437.0 306.2,432.7 306.7,420.0 307.5,410.0 308.6,400.0 309.5,394.5 310.2,392.2 312.2,394.0 314.6,402.5 316.3,409.5 318.0,416.0 320.2,423.0 322.3,428.5 324.5,432.5 326.5,435.0 327.7,435.3 329.5,434.5 331.5,433.5 333.5,432.0 335.5,430.5 337.8,429.0 340.4,430.6 342.5,432.5 344.6,434.4 347.5,437.5 350.5,440.4 352.7,444.1 356.5,447.9 361.6,451.1 366.6,453.0 370.0,452.0 373.0,451.7 378.1,452.7 383.1,453.6 388.2,455.5 393.3,457.4 399.6,458.2 410.0,459.0 425.0,459.3" fill="none" stroke="#111" stroke-width="0.8" stroke-linejoin="round"/>
<polyline points="281.3,459.3 290.0,459.4 296.0,459.2 300.0,458.4 302.7,456.8 304.3,452.0 305.2,447.9 305.8,437.0 306.2,432.7 306.7,420.0 307.5,410.0 308.6,400.0 309.5,394.5 310.2,392.2 311.7,393.5 313.3,403.0 315.0,410.0 316.5,415.0 318.2,424.0 320.8,436.0 324.0,442.0 326.5,445.5 329.3,446.6 334.4,447.7 340.7,449.2 345.8,450.4 350.1,453.0 355.2,455.5 365.4,457.4 380.0,458.4 400.0,459.0 425.0,459.3" fill="none" stroke="#c060c8" stroke-width="0.8" stroke-linejoin="round"/>
<polyline points="281.5,459.6 290.2,459.7 296.2,459.5 300.2,458.7 302.9,457.1 304.5,452.3 305.4,448.2 306.0,437.3 306.4,433.0 306.9,420.3 307.7,410.3 308.8,400.3 309.7,394.8 310.4,392.5 311.6,394.5 313.2,405.5 314.8,412.0 316.3,417.0 318.0,427.0 320.8,441.0 324.0,446.0 328.5,449.8 334.4,452.3 340.0,453.8 347.6,455.2 359.0,456.9 370.0,457.4 385.0,458.2 400.0,458.8 425.0,459.2" fill="none" stroke="#20a020" stroke-width="0.8" stroke-linejoin="round"/>
<polyline points="281.3,459.3 290.0,459.4 296.0,459.2 300.0,458.4 302.7,456.8 304.3,452.0 305.2,447.9 305.8,437.0 306.2,432.7 306.7,420.0 307.5,410.0 308.6,400.0 309.5,394.5 310.2,392.2 311.5,394.0 313.0,404.9 314.5,411.0 316.0,415.9 317.7,426.0 320.4,440.3 323.6,445.4 328.1,449.2 334.4,451.7 340.0,453.2 347.6,454.9 359.0,456.8 367.9,456.8 375.0,457.6 385.0,458.2 395.0,458.6 410.0,459.0 425.0,459.2" fill="none" stroke="#3838b8" stroke-width="0.9" stroke-linejoin="round"/>
<polyline points="281.3,459.6 290.0,459.6 300.0,459.8 305.2,459.6 307.0,456.0 309.0,451.7 312.8,446.6 316.0,444.1 320.4,440.9 323.6,439.0 326.8,434.0 328.7,427.6 330.4,419.3 332.9,409.1 334.6,403.2 336.3,397.3 338.8,396.0 340.9,392.2 342.6,394.8 344.3,396.9 345.7,398.4 347.0,401.6 348.9,409.8 352.0,419.3 354.6,425.0 357.1,431.4 359.7,432.4 361.6,432.0 362.8,430.7 365.4,431.4 367.9,428.2 370.4,421.9 372.3,420.3 374.3,417.4 375.5,417.0 378.1,418.7 380.0,420.0 381.9,418.7 383.8,423.1 386.3,423.8 388.2,428.2 390.1,434.5 392.0,439.6 393.4,444.4 395.9,452.0 398.5,456.2 402.7,457.9 406.9,458.3 411.1,457.5 414.5,457.5 418.8,458.8 423.8,459.2 425.0,459.4" fill="none" stroke="#ff3c3c" stroke-width="0.8" stroke-linejoin="round"/>
<line x1="281.3" y1="365.1" x2="281.3" y2="463.2" stroke="#000" stroke-width="1.3"/>
<line x1="280.7" y1="460.0" x2="425.6" y2="460.0" stroke="#000" stroke-width="1.3"/>
<line x1="277.7" y1="460.0" x2="281.3" y2="460.0" stroke="#000" stroke-width="1.6"/>
<text x="277.60" y="462.20" font-size="8.0" text-anchor="end" stroke="#111" stroke-width="0.25" fill="#111" textLength="4.0" lengthAdjust="spacingAndGlyphs">0</text>
<line x1="277.7" y1="426.2" x2="281.3" y2="426.2" stroke="#000" stroke-width="1.6"/>
<text x="277.60" y="428.40" font-size="8.0" text-anchor="end" stroke="#111" stroke-width="0.25" fill="#111" textLength="7.0" lengthAdjust="spacingAndGlyphs">50</text>
<line x1="277.7" y1="392.4" x2="281.3" y2="392.4" stroke="#000" stroke-width="1.6"/>
<text x="277.60" y="394.60" font-size="8.0" text-anchor="end" stroke="#111" stroke-width="0.25" fill="#111" textLength="9.8" lengthAdjust="spacingAndGlyphs">100</text>
<line x1="281.3" y1="460.0" x2="281.3" y2="463.4" stroke="#000" stroke-width="1.4"/>
<text x="281.90" y="471.00" font-size="7.4" text-anchor="middle" stroke="#111" stroke-width="0.3" fill="#111">15</text>
<line x1="305.3" y1="460.0" x2="305.3" y2="463.4" stroke="#000" stroke-width="1.4"/>
<text x="305.90" y="471.00" font-size="7.4" text-anchor="middle" stroke="#111" stroke-width="0.3" fill="#111">20</text>
<line x1="329.3" y1="460.0" x2="329.3" y2="463.4" stroke="#000" stroke-width="1.4"/>
<text x="329.90" y="471.00" font-size="7.4" text-anchor="middle" stroke="#111" stroke-width="0.3" fill="#111">25</text>
<line x1="353.3" y1="460.0" x2="353.3" y2="463.4" stroke="#000" stroke-width="1.4"/>
<text x="353.90" y="471.00" font-size="7.4" text-anchor="middle" stroke="#111" stroke-width="0.3" fill="#111">30</text>
<line x1="377.3" y1="460.0" x2="377.3" y2="463.4" stroke="#000" stroke-width="1.4"/>
<text x="377.90" y="471.00" font-size="7.4" text-anchor="middle" stroke="#111" stroke-width="0.3" fill="#111">35</text>
<line x1="401.3" y1="460.0" x2="401.3" y2="463.4" stroke="#000" stroke-width="1.4"/>
<text x="401.90" y="471.00" font-size="7.4" text-anchor="middle" stroke="#111" stroke-width="0.3" fill="#111">40</text>
<line x1="425.3" y1="460.0" x2="425.3" y2="463.4" stroke="#000" stroke-width="1.4"/>
<text x="425.90" y="471.00" font-size="7.4" text-anchor="middle" stroke="#111" stroke-width="0.3" fill="#111">45</text>
<text x="353.60" y="482.90" font-size="7.2" text-anchor="middle" font-weight="bold" fill="#111" textLength="61" lengthAdjust="spacingAndGlyphs">Retention time [min]</text>
<text x="254.20" y="413.50" font-size="6.5" text-anchor="middle" stroke="#111" stroke-width="0.25" fill="#111" textLength="70.2" lengthAdjust="spacingAndGlyphs" transform="rotate(-90 254.20 413.50)">Relative intensity across</text>
<text x="262.20" y="413.60" font-size="6.5" text-anchor="middle" stroke="#111" stroke-width="0.25" fill="#111" textLength="38.5" lengthAdjust="spacingAndGlyphs" transform="rotate(-90 262.20 413.60)">XIC trace [%]</text>
<text x="300.60" y="379.80" font-size="6.8" text-anchor="start" stroke="#111" stroke-width="0.25" fill="#111" textLength="15.2" lengthAdjust="spacingAndGlyphs">VLDL</text>
<text x="336.10" y="379.80" font-size="6.8" text-anchor="start" stroke="#111" stroke-width="0.25" fill="#111" textLength="11.0" lengthAdjust="spacingAndGlyphs">LDL</text>
<text x="375.00" y="379.80" font-size="6.8" text-anchor="start" stroke="#111" stroke-width="0.25" fill="#111" textLength="12.3" lengthAdjust="spacingAndGlyphs">HDL</text>
<line x1="410.8" y1="371.5" x2="424.4" y2="371.5" stroke="#ff5050" stroke-width="1.8"/>
<text x="431.60" y="373.70" font-size="6.4" text-anchor="start" stroke="#111" stroke-width="0.25" fill="#111" textLength="25" lengthAdjust="spacingAndGlyphs">CE(18:2)</text>
<line x1="410.8" y1="382.3" x2="424.4" y2="382.3" stroke="#5050c8" stroke-width="0.9"/>
<text x="431.60" y="384.48" font-size="6.4" text-anchor="start" stroke="#111" stroke-width="0.25" fill="#111" textLength="28.7" lengthAdjust="spacingAndGlyphs">TAG(46:1)</text>
<line x1="410.8" y1="393.1" x2="424.4" y2="393.1" stroke="#20a020" stroke-width="0.9"/>
<text x="431.60" y="395.26" font-size="6.4" text-anchor="start" stroke="#111" stroke-width="0.25" fill="#111" textLength="28.7" lengthAdjust="spacingAndGlyphs">TAG(48:1)</text>
<line x1="410.8" y1="403.8" x2="424.4" y2="403.8" stroke="#c070c8" stroke-width="1.2"/>
<text x="431.60" y="406.04" font-size="6.4" text-anchor="start" stroke="#111" stroke-width="0.25" fill="#111" textLength="28.7" lengthAdjust="spacingAndGlyphs">TAG(50:1)</text>
<line x1="410.8" y1="414.6" x2="424.4" y2="414.6" stroke="#333" stroke-width="0.7" stroke-dasharray="1.5 1"/>
<text x="431.60" y="416.82" font-size="6.4" text-anchor="start" stroke="#111" stroke-width="0.25" fill="#111" textLength="28.7" lengthAdjust="spacingAndGlyphs">TAG(52:2)</text>
<line x1="410.8" y1="425.4" x2="424.4" y2="425.4" stroke="#111" stroke-width="0.9"/>
<text x="431.60" y="427.60" font-size="6.4" text-anchor="start" stroke="#111" stroke-width="0.25" fill="#111" textLength="28.7" lengthAdjust="spacingAndGlyphs">TAG(54:4)</text>
</svg>
</body></html>
